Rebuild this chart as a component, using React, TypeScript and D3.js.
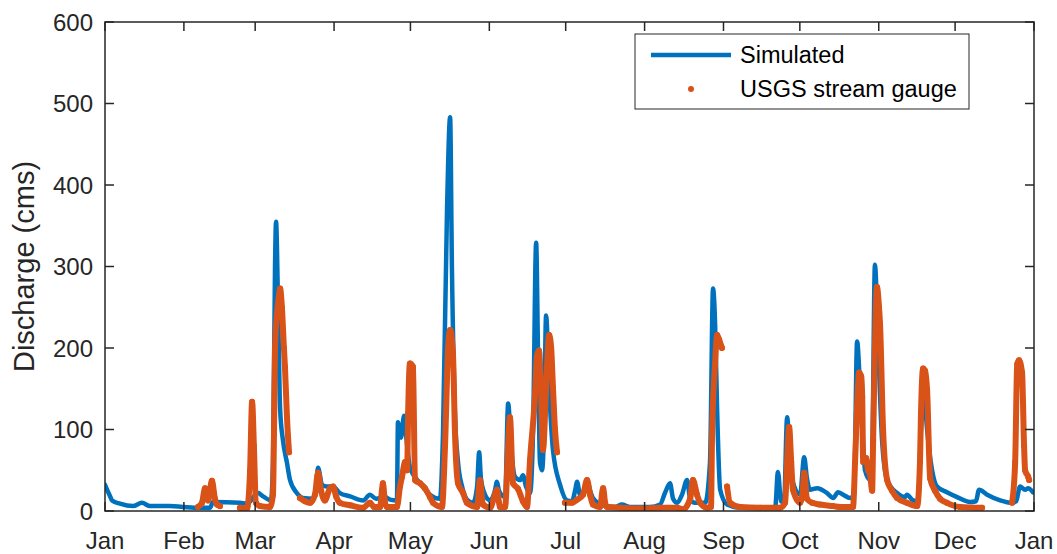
import React from "react";
import * as d3 from "d3";

const monthLabels = ["Jan","Feb","Mar","Apr","May","Jun","Jul","Aug","Sep","Oct","Nov","Dec","Jan"];
const monthStartDays = [0,31,59,90,120,151,181,212,243,273,304,334,365];
const yTicks = [0,100,200,300,400,500,600];

// Simulated discharge (day of year, cms)
const simDay = [0,2,2.8,5.9,11,14.5,17.7,25.5,30.6,37.3,41.3,42.4,53,55.8,60.1,62.1,65.2,66,66.8,67.2,68,68.8,69.9,71.5,72.7,75.4,77.8,81.7,82.9,83.7,85.3,87.2,89.6,92.3,96.3,101.4,104.1,106.5,108.1,109.6,112,114.7,115.1,116.3,117.5,118.7,119.8,123.8,127.7,131.6,132.8,134.4,135.6,136.3,137.5,138.7,140.3,142.2,144.6,146.2,147,147.7,149.3,151.3,153.2,154,154.8,157.2,158.4,159.5,161.1,163.1,164.2,165.4,167,168.2,169.4,170.1,170.9,171.7,172.5,173.3,174.5,176,178.8,181.5,183.5,184.7,185.5,186.6,188.2,189.4,190.6,191.7,195.7,200.4,203.1,206.3,214.1,218.1,220,222,223.2,224.8,226.7,228.7,229.9,231.8,235.8,237.7,238.9,239.7,240.5,241.7,244.4,249.5,263.3,264.4,265.6,266.8,268,269.2,270.3,273.1,274.7,275.8,277,279.8,283.7,286.1,288,290,292.7,294.3,295.5,296.7,297.9,298.6,300.6,301.4,302.5,303.7,305.3,307.3,311.2,314.3,315.1,317.5,319.5,320.6,321.8,323,324.2,326.9,330.8,334.8,339.9,342.2,343.4,346.6,351.7,356.4,358,359.5,361.5,362.7,364.6];
const simQ = [32,18,13,9,6,10,6,6,5,4,4,11,10,9,22,18,13,60,300,355,250,125,87,59,38,22,16,15,30,53,32,30,30,22,18,13,20,15,16,18,14,13,109,90,117,80,54,34,20,15,95,373,483,300,120,60,30,14,10,30,72,40,20,13,25,36,25,17,132,80,42,38,44,30,22,100,329,200,60,50,100,240,150,75,32,13,12,25,36,20,25,38,25,16,7,5,8,5,5,8,22,34,15,10,20,38,15,10,10,60,273,230,124,26,8,4,4,48,12,10,115,60,35,20,66,40,26,28,22,16,23,20,16,20,208,148,80,50,38,60,302,210,87,38,22,17,20,13,12,100,140,100,66,30,23,17,11,12,26,20,13,10,12,30,26,28,23];

// USGS stream gauge (day of year, cms); NaN marks missing records
const obsDay = [36.5,38.1,39.3,40.5,42,43.2,44,45.2,49,53,55.8,57,57.8,58.5,59.3,60.9,64.8,66,66.4,66.8,67.6,68.4,68.8,69.5,70.3,70.7,71.5,72.3,74,76.6,78.6,80.6,82.5,83.7,84.9,86.4,88.4,89.6,90.8,92.3,96.3,101.4,104.1,105.7,108.1,108.8,109.2,110,110.8,114.7,115.9,116.7,117.9,118.7,119.1,119.8,121,121.8,123.8,125.7,127.7,128.9,132.4,133.6,134.8,135.6,136.7,137.5,138.7,140.7,142.2,146.2,147.3,148.5,151.3,153.2,154,155.2,157.2,158.4,159.1,160.3,162.3,164.2,165.8,167,169,169.7,170.5,171.3,172.1,173.3,174.5,175.3,176,176.8,177.6,179,180.7,183.5,185.5,187.8,189.4,190.6,191.7,194.5,195.7,196.5,197.2,202.4,210.2,218.1,224.8,227.1,229.9,231,232.6,233.8,236.5,238.1,238.5,239.7,240.5,241.3,242.4,243.5,244.4,245.6,249.5,257.4,265.2,267.2,268,268.8,269.6,270.3,273.1,274.3,274.7,275.8,277.8,280.9,286.1,288.8,293.9,294.7,295.5,296.3,297.1,297.5,297.9,299,299.8,300.6,301.4,301.8,302.5,303.3,304.1,304.5,305.7,307.3,309.2,311.2,315.1,319.1,320.2,320.6,321.4,322.2,323,324.2,326.1,328.1,330.8,335.9,344.6,350,356.4,357.6,358.4,359.1,360.3,361.1,361.5,362.7,363.1];
const obsQ = [5,10,28,13,37,15,8,6,NaN,4,3,50,134,80,10,6,5,20,95,198,243,265,273,250,200,177,115,72,NaN,16,12,10,20,47,25,13,28,30,18,10,7,4,10,5,5,25,34,10,5,5,30,42,60,50,120,181,177,38,34,28,17,10,5,80,200,222,194,96,34,22,10,5,38,8,4,20,26,5,5,80,115,34,27,12,5,63,145,190,197,150,75,150,216,200,152,100,72,NaN,10,10,14,20,38,20,8,5,28,10,5,4,3,4,4,2,15,38,20,10,4,5,91,181,216,210,200,NaN,30,10,5,4,4,10,60,103,60,26,10,30,47,15,10,8,6,5,5,60,128,170,165,140,60,65,50,45,25,87,200,275,250,230,100,38,25,16,10,6,60,120,175,172,148,40,25,15,10,5,4,NaN,10,60,180,185,170,80,50,42,38];

const W = 1057, H = 554;
const L = 105, R = 1034, T = 22, B = 511;
const AX = "#262626";
const FONT = "'Liberation Sans', Arial, Helvetica, sans-serif";
const TICK_FS = 24;
const LEG_FS = 23.5;
const LABEL_FS = 29;

export default function App() {
  const x = d3.scaleLinear().domain([0, 365]).range([L, R]);
  const y = d3.scaleLinear().domain([0, 600]).range([B, T]);

  const simPts = simDay.map((d, i) => [d, simQ[i]] as [number, number]);
  const obsPts = obsDay.map((d, i) => [d, obsQ[i]] as [number, number]);

  const simLine = d3.line<[number, number]>()
    .x(p => x(p[0])).y(p => y(p[1]))
    .curve(d3.curveMonotoneX)(simPts) || "";
  const obsLine = d3.line<[number, number]>()
    .defined(p => !isNaN(p[1]))
    .x(p => x(p[0])).y(p => y(p[1]))
    .curve(d3.curveMonotoneX)(obsPts) || "";

  const tickLen = 9;

  return (
    <svg width={W} height={H} style={{ position: "absolute", left: 0, top: 0, background: "#fff" }}
      fontFamily={FONT}>
      <rect x={0} y={0} width={W} height={H} fill="#fff" />
      <defs>
        <clipPath id="plotClip">
          <rect x={L} y={T} width={R - L} height={B - T} />
        </clipPath>
      </defs>
      <g clipPath="url(#plotClip)">
        <path d={simLine} fill="none" stroke="#0072BD" strokeWidth={4.5} strokeLinejoin="round" strokeLinecap="round" />
        <path d={obsLine} fill="none" stroke="#D95319" strokeWidth={6} strokeLinejoin="round" strokeLinecap="round" />
        {obsPts.filter(p => !isNaN(p[1])).map((p, i) => (
          <circle key={i} cx={x(p[0])} cy={y(p[1])} r={3} fill="#D95319" />
        ))}
      </g>
      {/* axes box */}
      <rect x={L} y={T} width={R - L} height={B - T} fill="none" stroke={AX} strokeWidth={1.5} />
      {/* x ticks */}
      {monthStartDays.map((d, i) => (
        <g key={"xt" + i}>
          <line x1={x(d)} x2={x(d)} y1={B} y2={B - tickLen} stroke={AX} strokeWidth={1.5} />
          <line x1={x(d)} x2={x(d)} y1={T} y2={T + tickLen} stroke={AX} strokeWidth={1.5} />
          <text x={x(d)} y={549} textAnchor="middle" fontSize={TICK_FS} fill={AX}>{monthLabels[i]}</text>
        </g>
      ))}
      {/* y ticks */}
      {yTicks.map((v, i) => (
        <g key={"yt" + i}>
          <line x1={L} x2={L + tickLen} y1={y(v)} y2={y(v)} stroke={AX} strokeWidth={1.5} />
          <line x1={R} x2={R - tickLen} y1={y(v)} y2={y(v)} stroke={AX} strokeWidth={1.5} />
          <text x={93} y={y(v) + 8.5} textAnchor="end" fontSize={TICK_FS} fill={AX}>{v}</text>
        </g>
      ))}
      <text transform={`translate(34,${(T + B) / 2}) rotate(-90)`} textAnchor="middle" fontSize={LABEL_FS} fill={AX}>Discharge (cms)</text>
      {/* legend */}
      <rect x={635} y={34} width={334} height={75} fill="#fff" stroke={AX} strokeWidth={1} />
      <line x1={651} x2={731} y1={55} y2={55} stroke="#0072BD" strokeWidth={4.5} />
      <text x={740} y={63} fontSize={LEG_FS} fill="#000">Simulated</text>
      <circle cx={691} cy={89} r={3} fill="#D95319" />
      <text x={740} y={97} fontSize={LEG_FS} fill="#000">USGS stream gauge</text>
    </svg>
  );
}
